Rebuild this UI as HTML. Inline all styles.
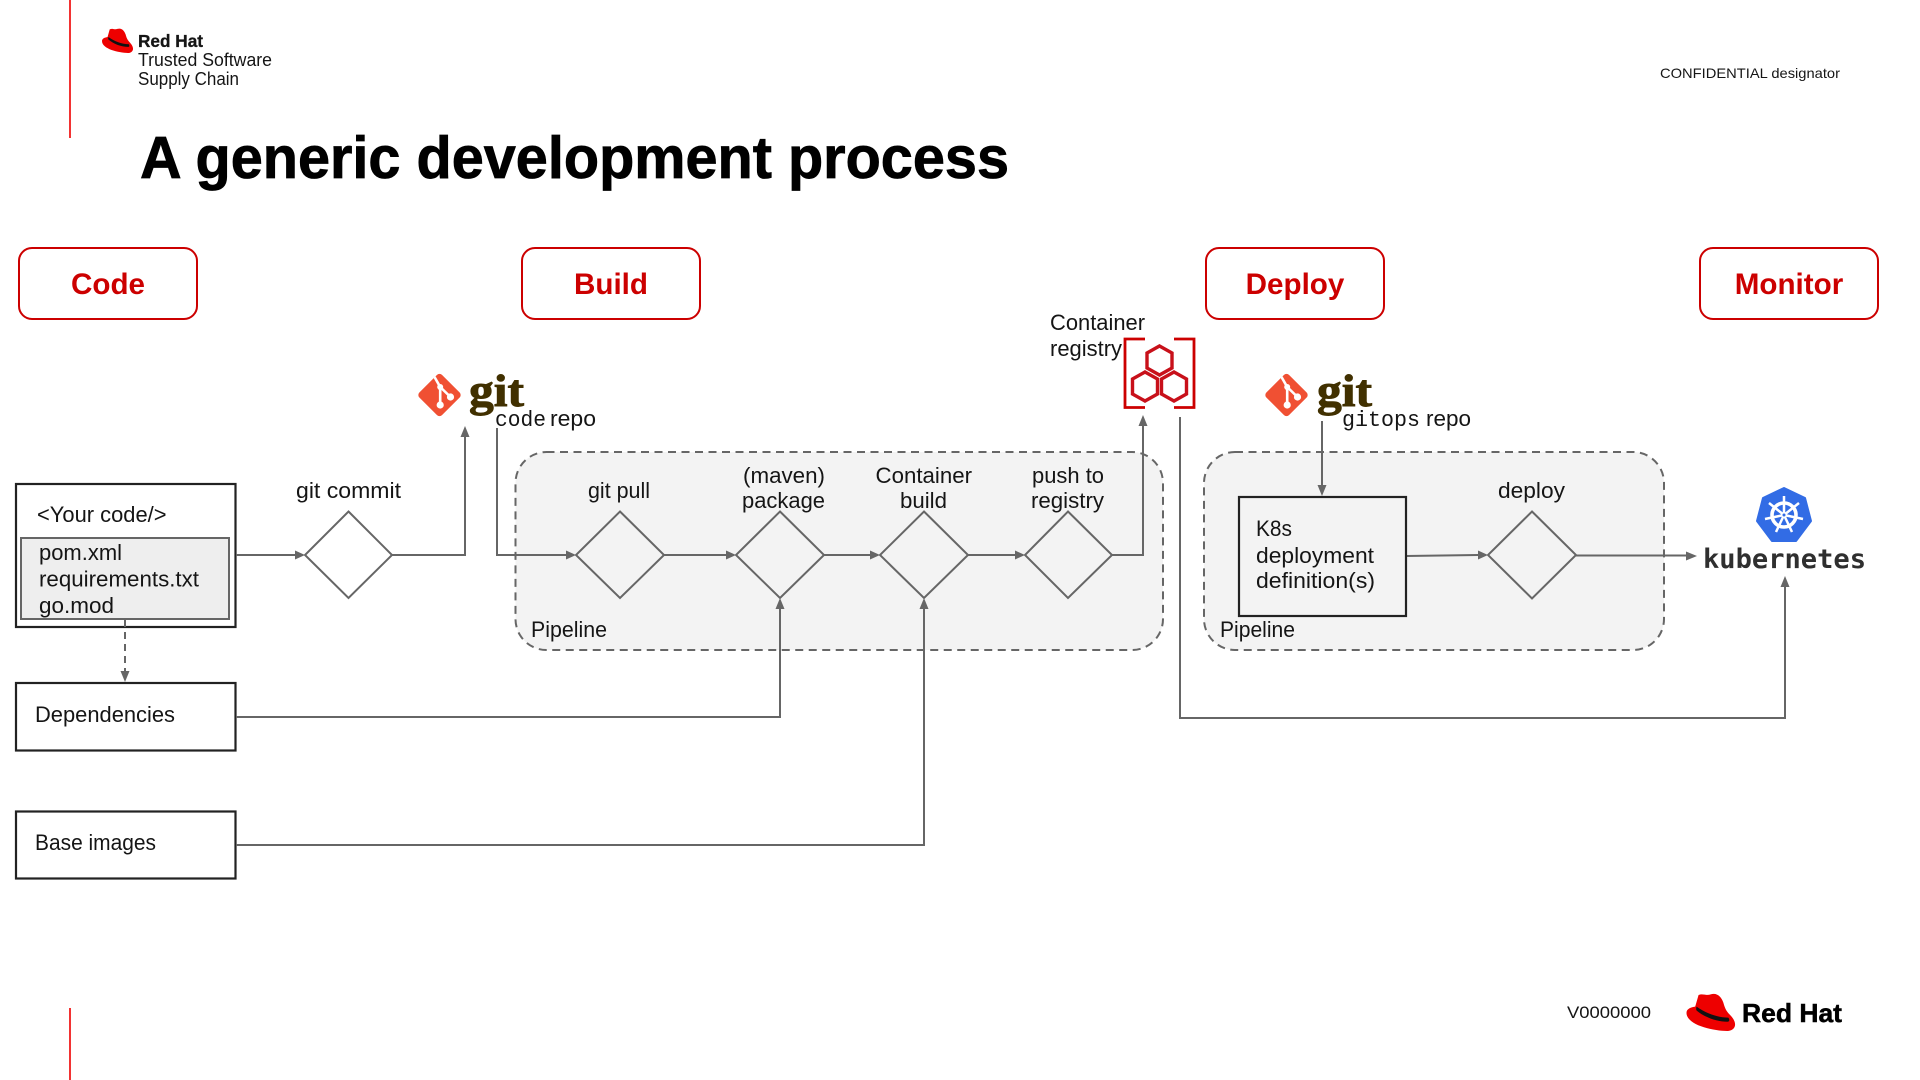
<!DOCTYPE html>
<html lang="en">
<head>
<meta charset="utf-8">
<title>A generic development process</title>
<style>
html,body{margin:0;padding:0;background:#fff;width:1920px;height:1080px;overflow:hidden}
svg{display:block}
text{font-family:"Liberation Sans",sans-serif;fill:#151515}
.t{font-size:22px}
.m{font-family:"Liberation Mono",monospace}
.tag{font-size:29.6px;font-weight:bold;fill:#cc0000;text-anchor:middle}
.box{fill:#fff;stroke:#cc0000;stroke-width:2}
.ln{fill:none;stroke:#666;stroke-width:2}
.dm{fill:none;stroke:#666;stroke-width:2}
.ar{fill:#666}
.bk{fill:#fff;stroke:#222;stroke-width:2.2}
.pipe{fill:#f3f3f3;stroke:#666;stroke-width:2;stroke-dasharray:8 5.5}
.git{font-family:"Liberation Serif",serif;font-weight:bold;font-size:46px;fill:#413000;stroke:#413000;stroke-width:.9}
</style>
</head>
<body>
<svg width="1920" height="1080" viewBox="0 0 1920 1080" xmlns="http://www.w3.org/2000/svg">
<defs>
<g id="hat">
<path fill="#e00" d="M36 6C48 0 60 9 72 4C92-2 104 12 110 28C114 42 118 52 128 62C138 72 145 82 145 92C145 104 134 111 122 111C80 111 0 94 0 58C0 46 14 42 26 40Z"/>
<path fill="#111" d="M30 40C29 44 28 48 30 51C55 72 92 84 122 84C129 84 129 78 125 72C95 72 58 60 30 40Z"/>
</g>
<g id="gitlogo">
<rect x="-16" y="-16" width="32" height="32" rx="3.5" transform="rotate(45)" fill="#f05033"/>
<path d="M-5-18L0.700-8V9M0.700-8L11 2" fill="none" stroke="#fff" stroke-width="2.6"/>
<circle cx="0.700" cy="10" r="3.600" fill="#fff"/>
<circle cx="11" cy="2" r="3.600" fill="#fff"/>
<circle cx="0.700" cy="-8" r="3" fill="#fff"/>
</g>
</defs>

<!-- page frame -->
<path d="M70 0V138M70 1008V1080" stroke="#e00" stroke-width="1.6" fill="none"/>
<use href="#hat" transform="translate(102 28) scale(.214 .225)"/>
<text x="138" y="47" font-size="17.5" font-weight="bold" stroke="#151515" stroke-width=".3" textLength="65" lengthAdjust="spacingAndGlyphs">Red Hat</text>
<text x="138" y="66" font-size="18" textLength="134" lengthAdjust="spacingAndGlyphs">Trusted Software</text>
<text x="138" y="85" font-size="18" textLength="101" lengthAdjust="spacingAndGlyphs">Supply Chain</text>
<text x="1660" y="78" font-size="14" textLength="180" lengthAdjust="spacingAndGlyphs">CONFIDENTIAL designator</text>
<text x="140" y="178" font-size="59" font-weight="bold" stroke="#000" stroke-width=".8" style="fill:#000" textLength="869" lengthAdjust="spacingAndGlyphs">A generic development process</text>

<!-- stage tags -->
<rect class="box" x="19" y="248" width="178" height="71" rx="13"/>
<text class="tag" x="108" y="294">Code</text>
<rect class="box" x="522" y="248" width="178" height="71" rx="13"/>
<text class="tag" x="611" y="294">Build</text>
<rect class="box" x="1206" y="248" width="178" height="71" rx="13"/>
<text class="tag" x="1295" y="294">Deploy</text>
<rect class="box" x="1700" y="248" width="178" height="71" rx="13"/>
<text class="tag" x="1789" y="294">Monitor</text>

<!-- pipelines -->
<rect class="pipe" x="515.5" y="452" width="647.5" height="198" rx="31"/>
<rect class="pipe" x="1204" y="452" width="460" height="198" rx="31"/>
<text class="t" x="531" y="637" textLength="76" lengthAdjust="spacingAndGlyphs">Pipeline</text>
<text class="t" x="1220" y="637" textLength="75" lengthAdjust="spacingAndGlyphs">Pipeline</text>

<!-- left boxes -->
<rect class="bk" x="16" y="484" width="219.5" height="143"/>
<rect x="21" y="538" width="208" height="81" fill="#eee" stroke="#666" stroke-width="2"/>
<text class="t" x="37" y="522" textLength="129.500" lengthAdjust="spacingAndGlyphs">&lt;Your code/&gt;</text>
<text class="t" x="39" y="560" textLength="83" lengthAdjust="spacingAndGlyphs">pom.xml</text>
<text class="t" x="39" y="586.500" textLength="160" lengthAdjust="spacingAndGlyphs">requirements.txt</text>
<text class="t" x="39" y="613" textLength="75" lengthAdjust="spacingAndGlyphs">go.mod</text>
<rect class="bk" x="16" y="683" width="219.5" height="67.500"/>
<text class="t" x="35" y="722" textLength="140" lengthAdjust="spacingAndGlyphs">Dependencies</text>
<rect class="bk" x="16" y="811.500" width="219.5" height="67"/>
<text class="t" x="35" y="850" textLength="121" lengthAdjust="spacingAndGlyphs">Base images</text>

<!-- connectors -->
<path class="ln" d="M236 555H296"/>
<path class="ar" d="M305 555L295 550.500V559.500Z"/>
<path class="ln" d="M392 555H465V436"/>
<path class="ar" d="M465 426L460.500 437H469.500Z"/>
<path class="ln" d="M497 428V555H567"/>
<path class="ar" d="M576 555L566 550.500V559.500Z"/>
<path class="ln" d="M664 555H727"/>
<path class="ar" d="M736 555L726 550.500V559.500Z"/>
<path class="ln" d="M824 555H871"/>
<path class="ar" d="M880 555L870 550.500V559.500Z"/>
<path class="ln" d="M968 555H1015"/>
<path class="ar" d="M1025 555L1015 550.500V559.500Z"/>
<path class="ln" d="M1112 555H1143V425"/>
<path class="ar" d="M1143 415L1138.500 426H1147.500Z"/>
<path class="ln" d="M125 620V672" stroke-dasharray="7 5"/>
<path class="ar" d="M125 682L120.500 671H129.500Z"/>
<path class="ln" d="M236 717H780V608"/>
<path class="ar" d="M780 598L775.500 609H784.500Z"/>
<path class="ln" d="M236 845H924V608"/>
<path class="ar" d="M924 598L919.500 609H928.500Z"/>
<path class="ln" d="M1180 417V718H1785V586"/>
<path class="ar" d="M1785 576L1780.500 587H1789.500Z"/>
<path class="ln" d="M1322 421V486"/>
<path class="ar" d="M1322 496L1317.500 485H1326.500Z"/>
<path class="ln" d="M1406 556L1478 555"/>
<path class="ar" d="M1488 555L1478 550.500V559.500Z"/>
<path class="ln" d="M1576 555.500H1687"/>
<path class="ar" d="M1697 556L1686 551.500V560.500Z"/>

<!-- decisions -->
<path class="dm" d="M348.500 511.500L392 555L348.500 598L305 555Z"/>
<path class="dm" d="M620 511.500L664 555L620 598L576 555Z"/>
<path class="dm" d="M780 511.500L824 555L780 598L736 555Z"/>
<path class="dm" d="M924 511.500L968 555L924 598L880 555Z"/>
<path class="dm" d="M1068 511.500L1112 555L1068 598L1025 555Z"/>
<path class="dm" d="M1532 511.500L1576 555L1532 598.500L1488 555Z"/>

<!-- decision labels -->
<text class="t" x="296" y="498" textLength="105" lengthAdjust="spacingAndGlyphs">git commit</text>
<text class="t" x="588" y="498" textLength="62" lengthAdjust="spacingAndGlyphs">git pull</text>
<text class="t" x="743" y="483" textLength="82" lengthAdjust="spacingAndGlyphs">(maven)</text>
<text class="t" x="742" y="508" textLength="83" lengthAdjust="spacingAndGlyphs">package</text>
<text class="t" x="875.500" y="483" textLength="96.500" lengthAdjust="spacingAndGlyphs">Container</text>
<text class="t" x="900" y="508" textLength="47" lengthAdjust="spacingAndGlyphs">build</text>
<text class="t" x="1032" y="483" textLength="72" lengthAdjust="spacingAndGlyphs">push to</text>
<text class="t" x="1031" y="508" textLength="73" lengthAdjust="spacingAndGlyphs">registry</text>
<text class="t" x="1498" y="498" textLength="67" lengthAdjust="spacingAndGlyphs">deploy</text>

<!-- K8s box -->
<rect x="1239" y="497" width="167" height="119" fill="#f3f3f3" stroke="#222" stroke-width="2.2"/>
<text class="t" x="1256" y="536" textLength="36" lengthAdjust="spacingAndGlyphs">K8s</text>
<text class="t" x="1256" y="563" textLength="118" lengthAdjust="spacingAndGlyphs">deployment</text>
<text class="t" x="1256" y="588" textLength="119" lengthAdjust="spacingAndGlyphs">definition(s)</text>

<!-- git code repo -->
<use href="#gitlogo" transform="translate(439.500 395)"/>
<text class="git" x="469" y="406" textLength="55" lengthAdjust="spacingAndGlyphs">git</text>
<text class="t m" x="495" y="426" textLength="51" lengthAdjust="spacingAndGlyphs">code</text>
<text class="t" x="550" y="426" textLength="46" lengthAdjust="spacingAndGlyphs">repo</text>

<!-- git gitops repo -->
<use href="#gitlogo" transform="translate(1286.500 395)"/>
<text class="git" x="1317" y="406" textLength="55" lengthAdjust="spacingAndGlyphs">git</text>
<text class="t m" x="1342" y="426" textLength="78" lengthAdjust="spacingAndGlyphs">gitops</text>
<text class="t" x="1426" y="426" textLength="45" lengthAdjust="spacingAndGlyphs">repo</text>

<!-- container registry -->
<text class="t" x="1050" y="330" textLength="95" lengthAdjust="spacingAndGlyphs">Container</text>
<text class="t" x="1050" y="356" textLength="72" lengthAdjust="spacingAndGlyphs">registry</text>
<path d="M1145 339H1125V407.500H1145M1174 339H1194V407.500H1174" fill="none" stroke="#cc0000" stroke-width="2.8"/>
<g fill="none" stroke="#c8101a" stroke-width="3.400">
<path d="M1159.500 346L1172 353V368L1159.500 375L1147 368V353Z"/>
<path d="M1145 372L1157.500 379V394L1145 401L1132.500 394V379Z"/>
<path d="M1174 372L1186.500 379V394L1174 401L1161.500 394V379Z"/>
</g>

<!-- kubernetes -->
<path d="M1784 488L1805 498L1811 521L1796 541H1772L1757 521L1763 498Z" fill="#326ce5" stroke="#326ce5" stroke-width="2" stroke-linejoin="round"/>
<g stroke="#fff" fill="none">
<circle cx="1784" cy="515" r="12" stroke-width="3.600"/>
<path stroke-width="2.500" d="M1784 515V496M1784 515L1799 503M1784 515L1803 519M1784 515L1792 532M1784 515L1776 532M1784 515L1765 519M1784 515L1769 503"/>
</g>
<circle cx="1784" cy="515" r="3" fill="#fff"/>
<circle cx="1784" cy="515" r="1.500" fill="#326ce5"/>
<text x="1703" y="568" font-size="27" font-weight="bold" style="font-family:'DejaVu Sans Mono',monospace;fill:#2f2f2f" textLength="163" lengthAdjust="spacingAndGlyphs">kubernetes</text>

<!-- footer -->
<text x="1567" y="1018" font-size="16.500" textLength="84" lengthAdjust="spacingAndGlyphs">V0000000</text>
<use href="#hat" transform="translate(1686.500 993) scale(.335 .342)"/>
<text x="1742" y="1022" font-size="26" font-weight="bold" stroke="#000" stroke-width=".5" style="fill:#000" textLength="100" lengthAdjust="spacingAndGlyphs">Red Hat</text>
</svg>
</body>
</html>
